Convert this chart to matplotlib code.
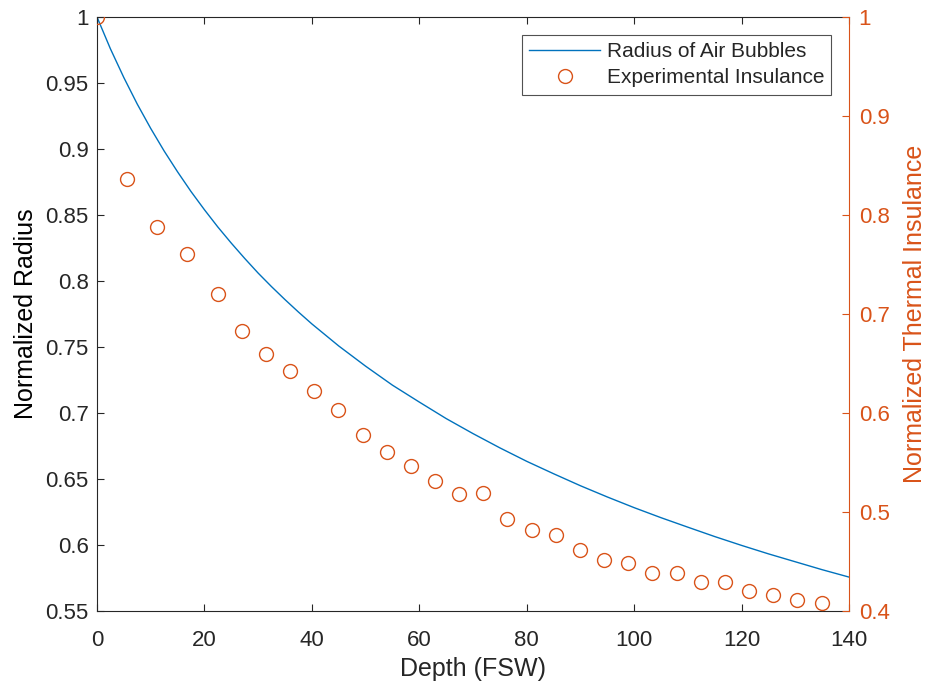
import matplotlib
matplotlib.use("Agg")
import matplotlib.pyplot as plt

plt.rcParams['font.family'] = ['Liberation Sans', 'DejaVu Sans']

# Model curve: normalized radius of air bubbles vs depth (FSW)
depth_model = [0, 2.5, 5, 7.5, 10, 12.5, 15, 17.5, 20, 22.5, 25, 27.5, 30, 32.5,
               35, 37.5, 40, 45, 50, 55, 60, 65, 70, 75, 80, 85, 90, 95, 100,
               105, 110, 115, 120, 125, 130, 135, 140]
radius_model = [1.0, 0.9759, 0.9541, 0.9340, 0.9156, 0.8985, 0.8827, 0.8678,
                0.8540, 0.8409, 0.8287, 0.8171, 0.8060, 0.7957, 0.7859, 0.7765,
                0.7675, 0.7508, 0.7355, 0.7211, 0.7083, 0.6958, 0.6844, 0.6736,
                0.6634, 0.6540, 0.6449, 0.6364, 0.6283, 0.6207, 0.6135, 0.6064,
                0.5997, 0.5933, 0.5873, 0.5813, 0.5757]

# Experimental normalized thermal insulance
depth_exp = [0, 5.59, 11.17, 16.81, 22.47, 26.94, 31.41, 35.93, 40.40, 44.92,
             49.47, 53.93, 58.40, 62.93, 67.45, 71.92, 76.39, 80.93, 85.40, 89.92,
             94.39, 98.91, 103.38, 107.92, 112.39, 116.86, 121.38, 125.91, 130.37, 134.92]
insulance_exp = [1.0, 0.836, 0.788, 0.761, 0.720, 0.683, 0.660, 0.642, 0.622, 0.603,
                 0.578, 0.561, 0.546, 0.531, 0.518, 0.519, 0.493, 0.482, 0.477, 0.462,
                 0.452, 0.448, 0.438, 0.438, 0.429, 0.429, 0.420, 0.416, 0.411, 0.408]

left_ticks = [0.55, 0.6, 0.65, 0.7, 0.75, 0.8, 0.85, 0.9, 0.95, 1]
left_ticklabels = ['0.55', '0.6', '0.65', '0.7', '0.75', '0.8', '0.85', '0.9', '0.95', '1']
right_ticks = [0.4, 0.5, 0.6, 0.7, 0.8, 0.9, 1]
right_ticklabels = ['0.4', '0.5', '0.6', '0.7', '0.8', '0.9', '1']
x_ticks = [0, 20, 40, 60, 80, 100, 120, 140]

BLUE = '#0072BD'
ORANGE = '#D95319'
DARK = '#262626'

fig = plt.figure(figsize=(9.29, 6.88), dpi=100)
ax = fig.add_axes([0.1044, 0.1119, 0.8095, 0.8634])
ax2 = ax.twinx()

l1, = ax.plot(depth_model, radius_model, color=BLUE, lw=1.0, label='Radius of Air Bubbles')
l2, = ax2.plot(depth_exp, insulance_exp, 'o', ms=10, mfc='none', mec=ORANGE, mew=1.0,
               label='Experimental Insulance')

ax.set_xlim(0, 140)
ax.set_ylim(0.55, 1)
ax2.set_ylim(0.4, 1)
ax.set_xticks(x_ticks)
ax.set_xticklabels([str(t) for t in x_ticks])
ax.set_yticks(left_ticks)
ax.set_yticklabels(left_ticklabels)
ax2.set_yticks(right_ticks)
ax2.set_yticklabels(right_ticklabels)

fs = 16
ax.tick_params(axis='both', direction='in', length=5, width=0.8, colors=DARK,
               labelsize=fs, top=True, pad=6)
ax.tick_params(axis='x', pad=14)
ax.tick_params(axis='y', right=False)
ax2.tick_params(axis='y', direction='in', length=5, width=0.8, colors=ORANGE,
                labelsize=fs, pad=7)

for s in ['left', 'bottom', 'top']:
    ax.spines[s].set_color(DARK)
    ax.spines[s].set_linewidth(0.8)
ax.spines['right'].set_visible(False)
for s in ['left', 'bottom', 'top']:
    ax2.spines[s].set_visible(False)
ax2.spines['right'].set_color(ORANGE)
ax2.spines['right'].set_linewidth(0.8)

ax.set_xlabel('Depth (FSW)', fontsize=18, color=DARK, labelpad=4)
ax.set_ylabel('Normalized Radius', fontsize=18, color='black', labelpad=5)
ax2.set_ylabel('Normalized Thermal Insulance', fontsize=18, color=ORANGE, labelpad=10)

leg = ax2.legend([l1, l2], ['Radius of Air Bubbles', 'Experimental Insulance'],
                 loc='upper right', fontsize=15, frameon=True, fancybox=False,
                 edgecolor=DARK, borderaxespad=0.85, handlelength=3.4,
                 handletextpad=0.3, borderpad=0.35, labelspacing=0.35)
leg.get_frame().set_linewidth(0.8)
for t in leg.get_texts():
    t.set_color(DARK)

fig.savefig('out.png', dpi=100)
